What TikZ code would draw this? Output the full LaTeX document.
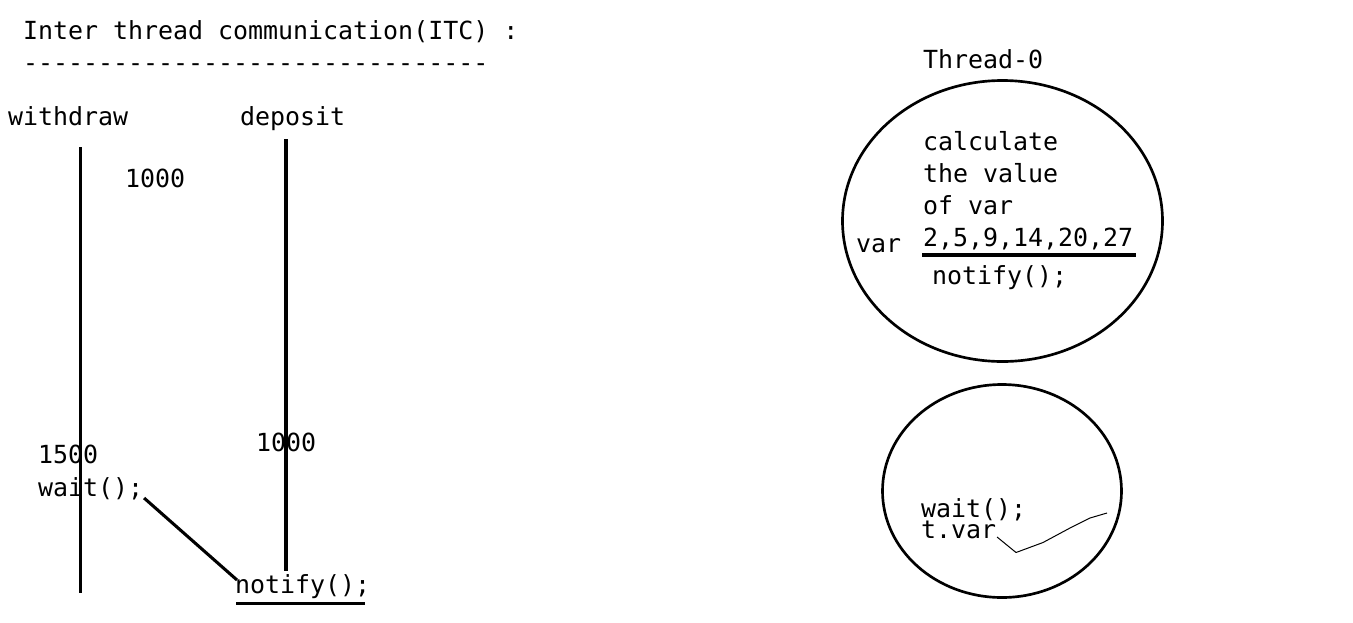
\documentclass[tikz,border=0pt]{standalone}
\usepackage{fontspec}
\setmonofont{DejaVu Sans Mono}
\tikzset{
  txt/.style={anchor=base west, inner sep=0pt, outer sep=0pt, font=\ttfamily\fontsize{18.7}{22}\selectfont, text=black},
  thick line/.style={line width=2.3pt, draw=black},
  ell line/.style={line width=2pt, draw=black},
  thin line/.style={line width=0.75pt, draw=black, line join=round}
}
\begin{document}
\begin{tikzpicture}[x=0.75pt, y=-0.75pt]
\useasboundingbox (0,0) rectangle (1353,622);
\fill[white] (0,0) rectangle (1353,622);
% left part
\node[txt] (title) at (23,39) {Inter thread communication(ITC) :};
\node[txt] (dashes) at (23,71) {-------------------------------};
\node[txt] (wd) at (8,125) {withdraw};
\node[txt] (dp) at (240,125) {deposit};
\node[txt] (na) at (125,187) {1000};
\node[txt] (nb) at (38,463) {1500};
\node[txt] (wait1) at (38,496) {wait();};
\node[txt] (nc) at (256,451) {1000};
\node[txt] (notify1) at (235,593) {notify();};
\coordinate (wtop) at (80.5,147);
\coordinate (wbot) at (80.5,593);
\coordinate (dtop) at (286,139);
\coordinate (dbot) at (286,571);
\draw[thick line] (wtop) -- (wbot);
\draw[thick line] (dtop) -- (dbot);
\draw[thick line] ([shift={(1,2)}]wait1.base east) -- ([shift={(2,-13)}]notify1.base west);
\coordinate (ul1a) at (236,603.5);
\coordinate (ul1b) at (365,603.5);
\draw[thick line] (ul1a) -- (ul1b);
% right part
\node[txt] (thr) at (923,68) {Thread-0};
\draw[ell line] (1002.5,221) ellipse [x radius=160, y radius=140.5];
\node[txt] (c1) at (923,150) {calculate};
\node[txt] (c2) at (923,182) {the value};
\node[txt] (c3) at (923,214) {of var};
\node[txt] (vals) at (923,246) {2,5,9,14,20,27};
\node[txt] (varl) at (856,252) {var};
\coordinate (ul2a) at (922,255);
\coordinate (ul2b) at (1136,255);
\draw[thick line] (ul2a) -- (ul2b);
\node[txt] (notify2) at (932,284) {notify();};
\draw[ell line] (1002,491) ellipse [x radius=119.5, y radius=106.5];
\node[txt] (wait2) at (921,517) {wait();};
\node[txt] (tvar) at (921,538) {t.var};
\coordinate (p1) at (1016,552.5);
\coordinate (p2) at (1043,542.5);
\coordinate (p3) at (1070,528);
\coordinate (p4) at (1090,518);
\coordinate (p5) at (1107,513);
\draw[thin line] ([shift={(1,-1)}]tvar.base east) -- (p1) -- (p2) -- (p3) -- (p4) -- (p5);
\end{tikzpicture}
\end{document}
